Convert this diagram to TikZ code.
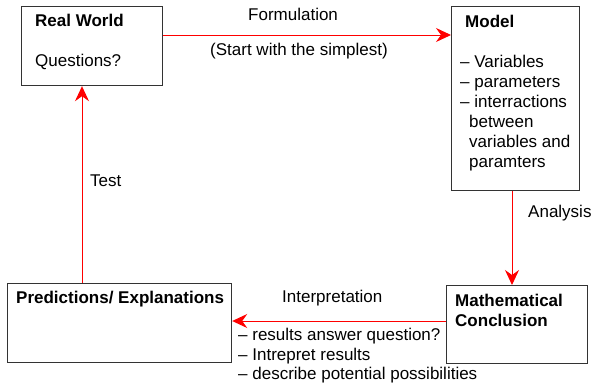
\documentclass[tikz,border=0pt]{standalone}
\usepackage{fontspec}
\setmainfont{Liberation Sans}
\usetikzlibrary{arrows.meta}
\begin{document}
\begin{tikzpicture}[x=1pt,y=-1pt,
  box/.style={draw=black!80,line width=1.2pt,rectangle,inner sep=0pt,anchor=north west},
  arr/.style={draw=red,line width=1pt,-{Stealth[length=15pt,width=14pt,inset=5pt]}},
  txt/.style={anchor=base west,inner sep=0pt,font=\fontsize{17}{20}\selectfont},
  btxt/.style={txt,font=\fontsize{17}{20}\selectfont\bfseries}]
\useasboundingbox (0,0) rectangle (593,383);
% boxes
\node[box,minimum width=141pt,minimum height=79pt] (rw) at (21,6) {};
\node[box,minimum width=128pt,minimum height=184pt] (model) at (451,6) {};
\node[box,minimum width=224pt,minimum height=79pt] (pred) at (7,283) {};
\node[box,minimum width=141pt,minimum height=78pt] (math) at (446,285) {};
% box texts
\node[btxt] (rwt) at (35,26) {Real World};
\node[txt] (rwq) at (35,66) {Questions?};
\node[btxt] (mt) at (465,27) {Model};
\node[txt] (m1) at (460,67) {– Variables};
\node[txt] (m2) at (460,87) {– parameters};
\node[txt] (m3) at (460,107) {– interractions};
\node[txt] (m4) at (469,127) {between};
\node[txt] (m5) at (469,147) {variables and};
\node[txt] (m6) at (469,167) {paramters};
\node[btxt] (pt) at (16,303) {Predictions/ Explanations};
\node[btxt] (ct1) at (455,306) {Mathematical};
\node[btxt] (ct2) at (455,326) {Conclusion};
% connectors
\draw[arr] (rw.east |- 0,35) -- (model.west |- 0,35);
\draw[arr] (model.south -| 512,0) -- (math.north -| 512,0);
\draw[arr] (math.west |- 0,321) -- (pred.east |- 0,321);
\draw[arr] (pred.north -| 82,0) -- (rw.south -| 82,0);
% labels
\node[txt] (lf) at (248,20) {Formulation};
\node[txt] (ls) at (210,55) {(Start with the simplest)};
\node[txt] (la) at (528,217) {Analysis};
\node[txt] (li) at (282,302) {Interpretation};
\node[txt] (l1) at (238,340) {– results answer question?};
\node[txt] (l2) at (238,360) {– Intrepret results};
\node[txt] (l3) at (238,379) {– describe potential possibilities};
\node[txt] (lt) at (90,186) {Test};
\end{tikzpicture}
\end{document}
